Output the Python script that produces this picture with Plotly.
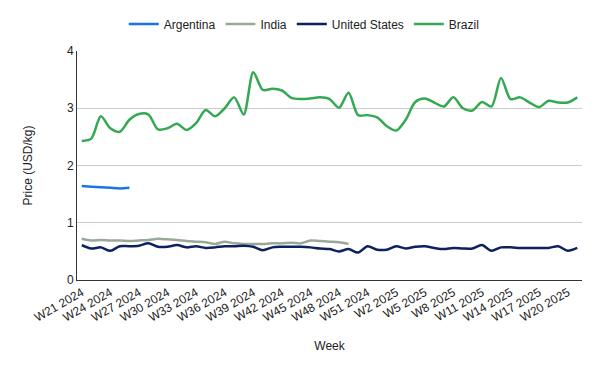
import plotly.graph_objects as go

weeks = [f"W{w} 2024" for w in range(21, 53)] + [f"W{w} 2025" for w in range(1, 22)]

argentina = [1.64, 1.63, 1.62, 1.61, 1.60, 1.61]

india = [0.72, 0.69, 0.70, 0.69, 0.69, 0.68, 0.69, 0.70, 0.72, 0.71, 0.70, 0.68,
         0.67, 0.66, 0.63, 0.67, 0.64, 0.63, 0.63, 0.63, 0.64, 0.64, 0.65, 0.64,
         0.69, 0.68, 0.67, 0.66, 0.63]

united_states = [0.61, 0.55, 0.57, 0.51, 0.59, 0.59, 0.60, 0.64, 0.58, 0.58, 0.61, 0.57,
                 0.59, 0.56, 0.57, 0.59, 0.59, 0.60, 0.58, 0.52, 0.57, 0.58, 0.58, 0.58,
                 0.57, 0.55, 0.54, 0.50, 0.54, 0.48, 0.59, 0.53, 0.53, 0.59, 0.55, 0.58,
                 0.59, 0.56, 0.54, 0.56, 0.55, 0.55, 0.61, 0.51, 0.57, 0.57, 0.56, 0.56,
                 0.56, 0.56, 0.59, 0.51, 0.56]

brazil = [2.43, 2.47, 2.86, 2.65, 2.59, 2.80, 2.90, 2.89, 2.63, 2.65, 2.73, 2.62,
          2.74, 2.97, 2.86, 3.00, 3.19, 2.89, 3.63, 3.32, 3.34, 3.31, 3.18, 3.16,
          3.17, 3.19, 3.16, 3.01, 3.27, 2.88, 2.88, 2.84, 2.69, 2.61, 2.80, 3.11,
          3.17, 3.10, 3.03, 3.19, 3.00, 2.96, 3.11, 3.03, 3.53, 3.16, 3.19, 3.10,
          3.02, 3.13, 3.10, 3.10, 3.19]

tick_idx = list(range(0, 52, 3))
tick_text = [weeks[i] for i in tick_idx]

series = [
    ("Argentina", argentina, "#1a73e8"),
    ("India", india, "#9aa89a"),
    ("United States", united_states, "#0c2260"),
    ("Brazil", brazil, "#34a853"),
]

fig = go.Figure()
for name, vals, color in series:
    fig.add_trace(go.Scatter(
        x=list(range(len(vals))), y=vals, name=name, mode="lines",
        line=dict(color=color, width=2.5, shape="spline", smoothing=0.8),
    ))

font = dict(family="Liberation Sans, Arial, sans-serif", size=12, color="#222222")
fig.update_layout(
    width=592, height=363,
    margin=dict(l=69, r=18, t=43, b=91, autoexpand=False),
    paper_bgcolor="white", plot_bgcolor="white",
    font=font,
    showlegend=True,
    legend=dict(orientation="h", x=0.45, xanchor="center", y=0.956, yanchor="middle",
                yref="container", font=dict(size=12, color="#222222"),
                itemwidth=30, tracegroupgap=0),
    xaxis=dict(
        range=[-0.5, len(weeks) - 0.5], automargin=False,
        tickmode="array", tickvals=tick_idx, ticktext=tick_text,
        tickangle=-30, showgrid=False, zeroline=False,
        showline=True, linecolor="#333333", linewidth=1,
        ticks="",
        title=dict(text="Week", font=dict(size=12, color="#222222"), standoff=18),
    ),
    yaxis=dict(
        range=[0, 4], dtick=1, showgrid=True, gridcolor="#cccccc", gridwidth=1,
        zeroline=False, showline=True, linecolor="#333333", linewidth=1, automargin=False,
        ticks="", title=dict(text="Price (USD/kg)", font=dict(size=12, color="#222222"), standoff=31),
    ),
)

fig.write_html("out.html")
